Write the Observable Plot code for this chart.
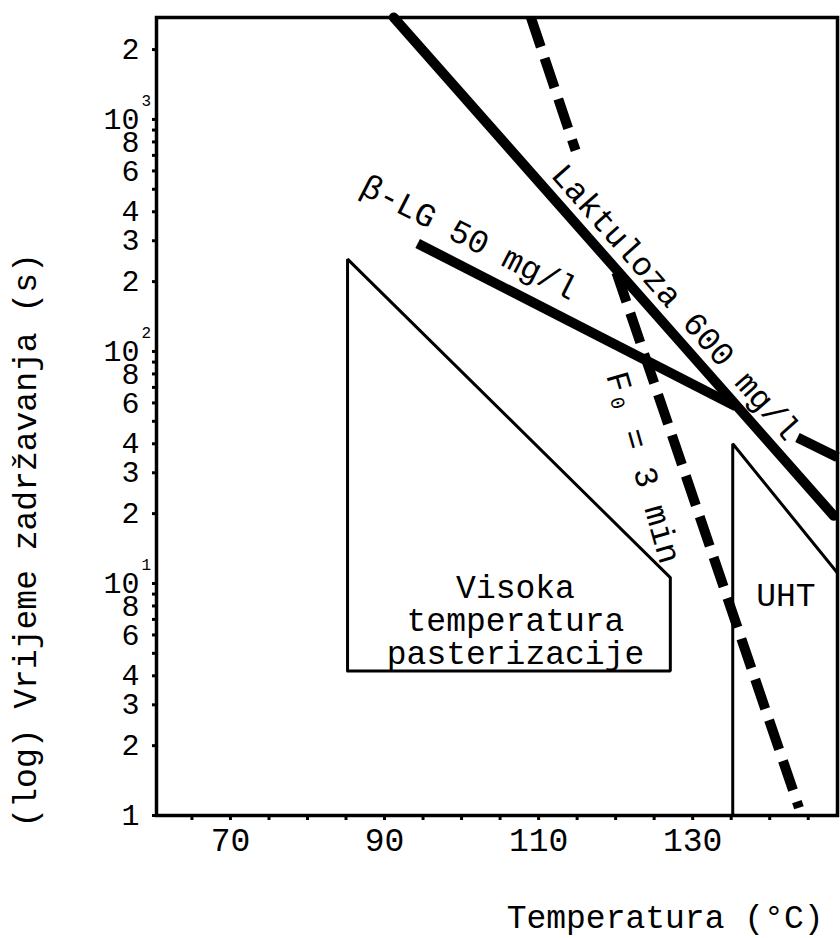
<!DOCTYPE html>
<html>
<head>
<meta charset="utf-8">
<script src="https://cdn.jsdelivr.net/npm/d3@7"></script>
<script src="https://cdn.jsdelivr.net/npm/@observablehq/plot@0.6"></script>
<style>
  html, body { margin: 0; padding: 0; background: #fff; }
</style>
</head>
<body>
<div id="chart"></div>
<script>
// ---- tick labels ----
const xLabelTicks = [70, 90, 110, 130];
const xMinorTicks = [65, 70, 75, 80, 85, 90, 95, 100, 105, 110, 115, 120, 125, 130, 135, 140, 145];
const yLabelTicks = [1, 2, 3, 4, 6, 8, 10, 20, 30, 40, 60, 80, 100, 200, 300, 400, 600, 800, 1000, 2000];
const yDecades = [10, 100, 1000];
const yExponents = ["1", "2", "3"];
const yMinorTicks = [1, 2, 3, 4, 5, 6, 7, 8, 9, 10, 20, 30, 40, 50, 60, 70, 80, 90,
                     100, 200, 300, 400, 500, 600, 700, 800, 900, 1000, 2000];

// ---- series (temperature °C, holding time s) ----
const laktulozaT = [91.2, 148.3];
const laktulozaV = [2750, 19.6];

const betaLgSeg = [1, 1, 2, 2];
const betaLgT = [94.3, 135.6, 143.6, 148.8];
const betaLgV = [292, 58, 42.6, 35];

const f0Seg = [1, 1, 2, 2];
const f0T = [109.0, 114.8, 120.1, 143.8];
const f0V = [2750, 735, 219, 1.08];

const pastT = [85.2, 85.2, 127.1, 127.1, 85.2];
const pastV = [4.2, 250, 10.6, 4.2, 4.2];

const uhtT = [135.2, 135.2, 148.8];
const uhtV = [1, 40, 11.1];

// tables built from arrays
const laktuloza = laktulozaT.map((t, i) => ({t, v: laktulozaV[i]}));
const betaLg = betaLgT.map((t, i) => ({t, v: betaLgV[i], s: betaLgSeg[i]}));
const f0 = f0T.map((t, i) => ({t, v: f0V[i], s: f0Seg[i]}));
const past = pastT.map((t, i) => ({t, v: pastV[i]}));
const uht = uhtT.map((t, i) => ({t, v: uhtV[i]}));
const decadeSup = yDecades.map((v, i) => ({v, e: yExponents[i]}));

// "10" for decades, leading digit otherwise
const yFmt = d => yDecades.includes(d) ? "10" : String(Math.round(d / Math.pow(10, Math.floor(Math.log10(d) + 1e-9))));

const FONT = "'Liberation Mono', 'Courier New', monospace";

const chart = Plot.plot({
  width: 840,
  height: 938,
  marginTop: 17,
  marginBottom: 123,
  marginLeft: 156,
  marginRight: 3,
  style: {fontFamily: FONT, fontSize: "33px", color: "#000", background: "#fff"},
  x: {domain: [60.4, 148.8]},
  y: {type: "log", domain: [1, 2750]},
  marks: [
    // regions
    Plot.line(past, {x: "t", y: "v", stroke: "#000", strokeWidth: 3, strokeLinejoin: "miter"}),
    Plot.line(uht, {x: "t", y: "v", stroke: "#000", strokeWidth: 3, strokeLinejoin: "miter"}),
    // curves
    Plot.line(laktuloza, {x: "t", y: "v", stroke: "#000", strokeWidth: 10, strokeLinecap: "round"}),
    Plot.line(betaLg, {x: "t", y: "v", z: "s", stroke: "#000", strokeWidth: 10, strokeLinecap: "butt"}),
    Plot.line(f0, {x: "t", y: "v", z: "s", stroke: "#000", strokeWidth: 10, strokeDasharray: "31,12", strokeLinecap: "butt"}),
    // frame & axes
    Plot.frame({stroke: "#000", strokeWidth: 3.5}),
    Plot.axisX({ticks: xMinorTicks, tickSize: 5, strokeWidth: 3, tickFormat: () => "", label: null}),
    Plot.axisX({ticks: xLabelTicks, tickSize: 0, tickPadding: 12, tickFormat: d => String(d), label: null}),
    Plot.axisY({ticks: yMinorTicks, tickSize: 4, strokeWidth: 3, tickFormat: () => "", label: null}),
    Plot.text(yLabelTicks, {y: d => d, text: yFmt, frameAnchor: "left", dx: -17,
                            textAnchor: "end", lineAnchor: "middle", fontSize: 30}),
    Plot.text(decadeSup, {y: "v", text: "e", frameAnchor: "left", dx: -15, dy: -19,
                          textAnchor: "start", lineAnchor: "middle", fontSize: 16}),
    // axis titles
    Plot.text(["(log) Vrijeme zadržavanja (s)"], {frameAnchor: "bottom-left", dx: -131, dy: 12,
                          rotate: -90, textAnchor: "start", lineAnchor: "middle"}),
    Plot.text(["Temperatura (°C)"], {frameAnchor: "bottom-right", dx: -14, dy: 102,
                          textAnchor: "end", lineAnchor: "middle"}),
    // annotations
    Plot.text(["Laktuloza 600 mg/l"], {x: 127.8, y: 163, rotate: 48.5, lineAnchor: "middle"}),
    Plot.text(["β-LG 50 mg/l"], {x: 101.0, y: 310, rotate: 27, lineAnchor: "middle"}),
    Plot.text(["F₀ = 3 min"], {x: 123.6, y: 31.6, rotate: 74, lineAnchor: "middle"}),
    Plot.text(["Visoka\ntemperatura\npasterizacije"], {x: 107, y: 6.9, lineHeight: 1.0, lineAnchor: "middle"}),
    Plot.text(["UHT"], {x: 142.1, y: 8.9, lineAnchor: "middle"})
  ]
});

document.getElementById("chart").appendChild(chart);
</script>
</body>
</html>
